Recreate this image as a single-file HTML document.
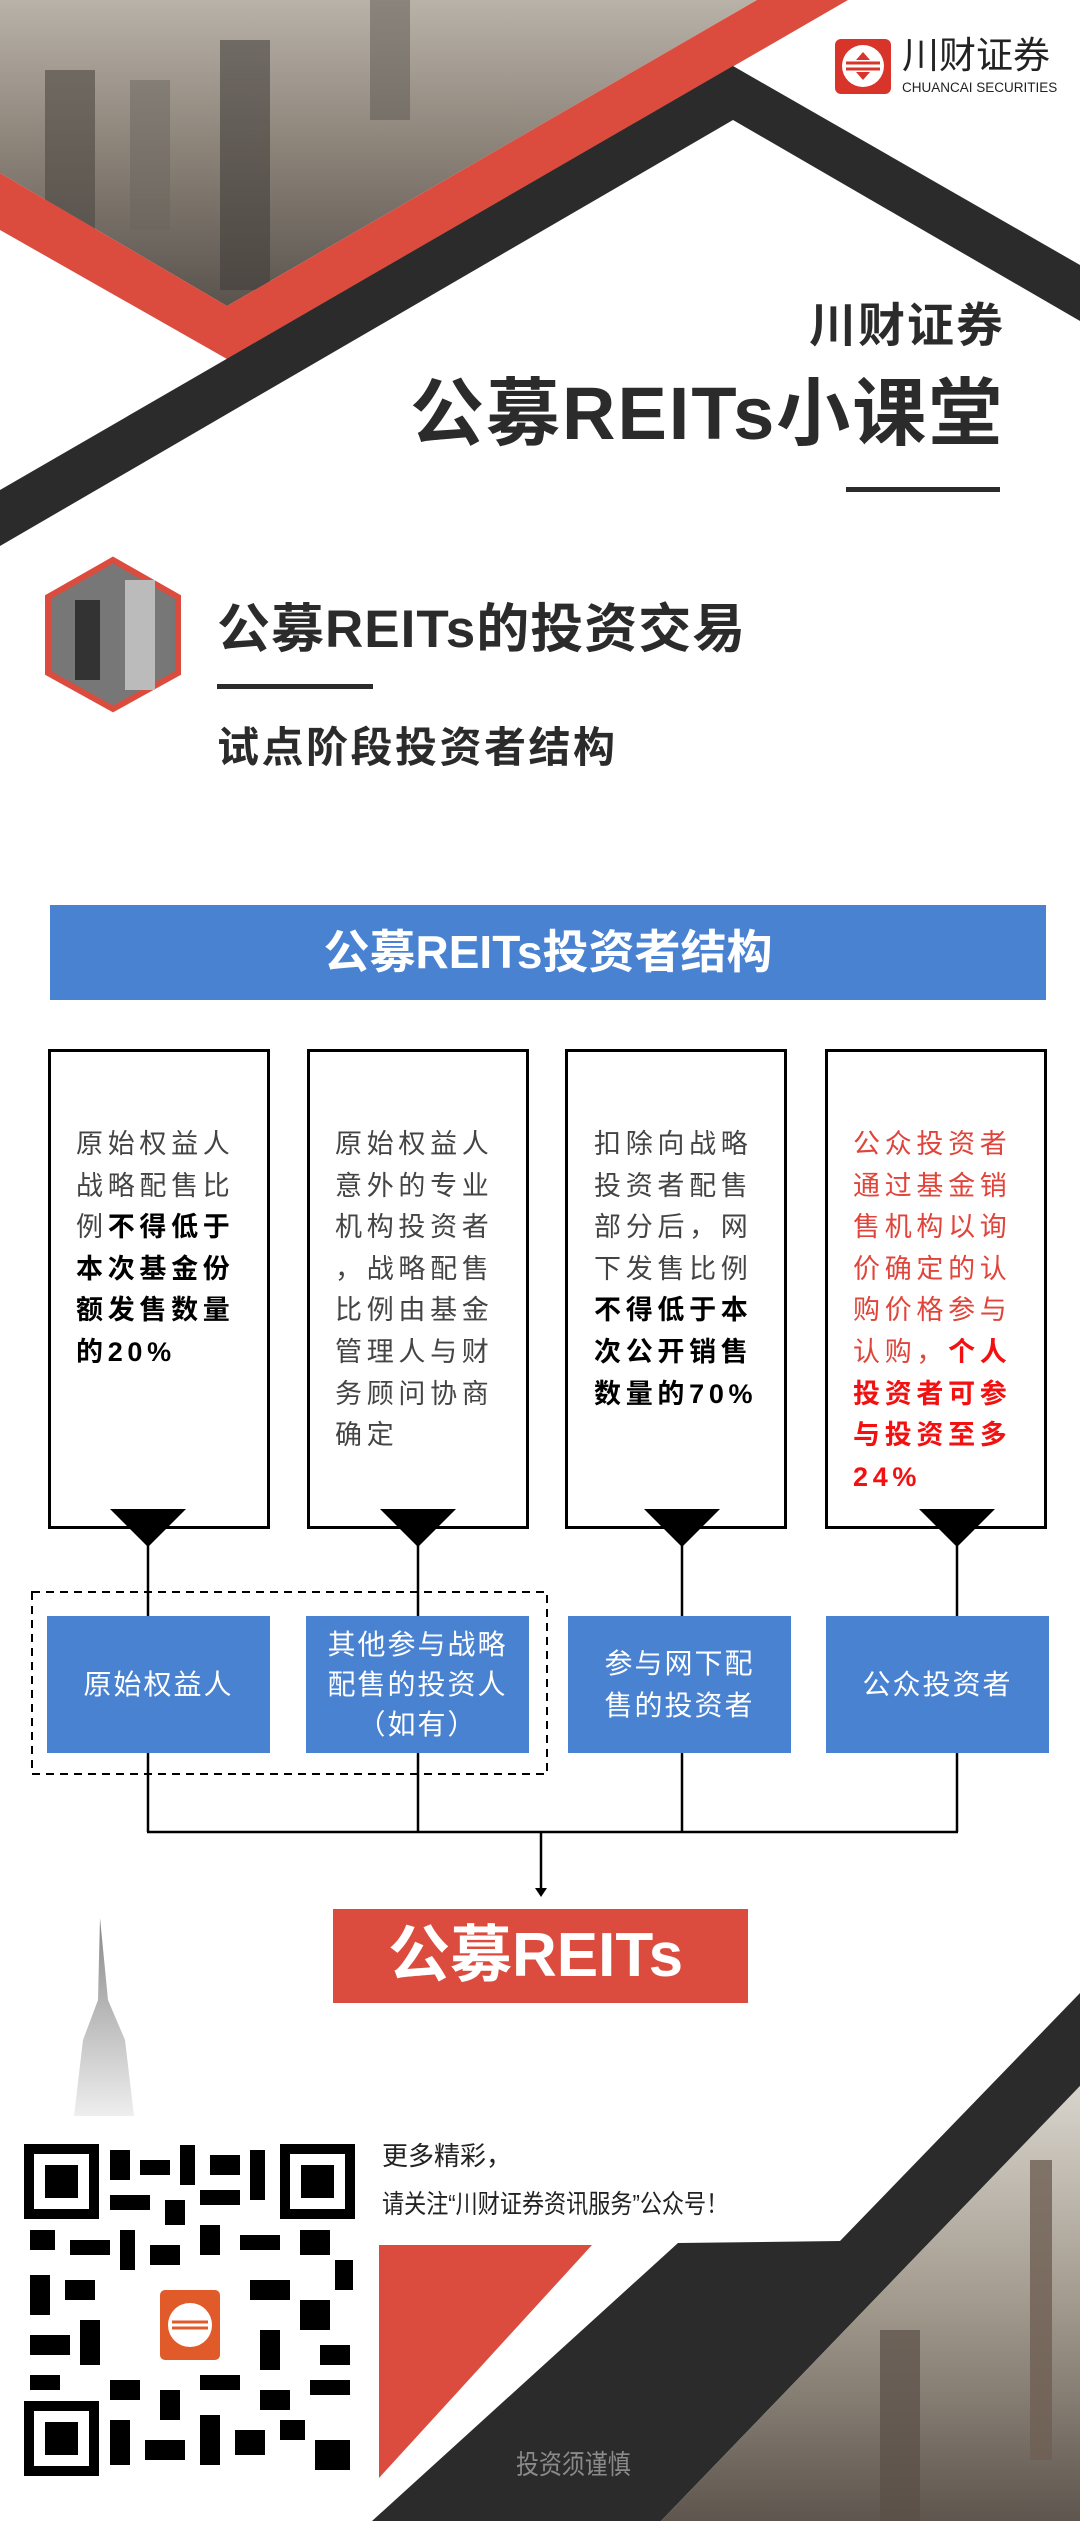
<!DOCTYPE html>
<html><head><meta charset="utf-8">
<style>
html,body{margin:0;padding:0}
body{width:1080px;height:2521px;position:relative;overflow:hidden;background:#fff;font-family:"Liberation Sans","Noto Sans CJK SC",sans-serif}
.a{position:absolute;white-space:nowrap}
.box{position:absolute;top:1049px;width:216px;height:474px;border:3px solid #000;box-sizing:content-box}
.txt{position:absolute;top:1124px;font-size:27px;line-height:41.6px;letter-spacing:4.7px;color:#444;white-space:nowrap}
.txt b{color:#000}
.red{color:#e0443a}
.red b{color:#f31010}
.bb{position:absolute;top:1616px;height:137px;width:223px;background:#4a82d2;color:#fff;font-size:28px;line-height:46px;display:flex;align-items:center;justify-content:center;text-align:center;letter-spacing:2px}
</style></head><body>
<svg class="a" style="left:0;top:0" width="1080" height="2521">
<defs>
<linearGradient id="city" x1="0" y1="0" x2="0" y2="1"><stop offset="0" stop-color="#b9b2a8"/><stop offset="0.5" stop-color="#8a8177"/><stop offset="1" stop-color="#5a544e"/></linearGradient>
<linearGradient id="city2" x1="0" y1="0" x2="0" y2="1"><stop offset="0" stop-color="#d8d4cc"/><stop offset="0.5" stop-color="#a39a8e"/><stop offset="1" stop-color="#5e564e"/></linearGradient>
<linearGradient id="tw" x1="0" y1="0" x2="0" y2="1"><stop offset="0" stop-color="#888"/><stop offset="1" stop-color="#eee"/></linearGradient>
</defs>
<polygon points="0,0 757,0 227,306 0,173" fill="url(#city)"/>
<rect x="45" y="70" width="50" height="160" fill="#4c4742" opacity="0.6"/>
<rect x="220" y="40" width="50" height="250" fill="#3e3a36" opacity="0.55"/>
<rect x="370" y="0" width="40" height="120" fill="#5a5550" opacity="0.5"/>
<rect x="130" y="80" width="40" height="150" fill="#6a645e" opacity="0.5"/>
<polygon points="0,173 227,306 757,0 848,0 227,359 0,230" fill="#dc4c3e"/>
<polygon points="0,490 733,66 1080,265 1080,321 733,120 0,546" fill="#2b2b2b"/>
<polygon points="372,2521 678,2243 840,2241 1080,1993 1080,2086 661,2521" fill="#2b2b2b"/>
<polygon points="1080,2086 1080,2521 661,2521" fill="url(#city2)"/>
<rect x="1030" y="2160" width="22" height="300" fill="#6e5f52" opacity="0.8"/>
<rect x="880" y="2330" width="40" height="191" fill="#5a4f46" opacity="0.7"/>
<polygon points="379,2245 592,2245 379,2478" fill="#dc4c3e"/>
<polygon points="100,1918 108,2000 125,2040 134,2116 74,2116 83,2040 98,2000" fill="url(#tw)"/>
<polygon points="113,560 178,597 178,673 113,709 48,673 48,597" fill="#777" stroke="#dc4c3e" stroke-width="6"/>
<rect x="75" y="600" width="25" height="80" fill="#333"/><rect x="125" y="580" width="30" height="110" fill="#bbb"/>
<rect x="846" y="487" width="154" height="5" fill="#2b2b2b"/>
<rect x="217" y="684" width="156" height="5" fill="#2b2b2b"/>
<rect x="50" y="905" width="996" height="95" fill="#4a82d2"/>
<rect x="32" y="1592" width="515" height="182" fill="none" stroke="#000" stroke-width="2" stroke-dasharray="8,6"/>
<g stroke="#000" stroke-width="2.5" fill="none">
<line x1="148" y1="1540" x2="148" y2="1832"/><line x1="418" y1="1540" x2="418" y2="1832"/>
<line x1="682" y1="1540" x2="682" y2="1832"/><line x1="957" y1="1540" x2="957" y2="1832"/>
<line x1="147" y1="1832" x2="958" y2="1832"/><line x1="541" y1="1832" x2="541" y2="1892"/>
</g>
<polygon points="535,1888 547,1888 541,1897" fill="#000"/>
<rect x="835" y="39" width="56" height="55" rx="6" fill="#d8342a"/>
<circle cx="863" cy="66" r="21" fill="#fff"/>
<path d="M846 63 H880 M846 69 H880" stroke="#d8342a" stroke-width="3"/>
<polygon points="856,60 870,60 863,52" fill="#d8342a"/><polygon points="856,72 870,72 863,80" fill="#d8342a"/>
<rect x="24" y="2144" width="331" height="332" fill="#fff"/>
<g fill="#000">
<rect x="24" y="2144" width="75" height="75"/><rect x="280" y="2144" width="75" height="75"/><rect x="24" y="2401" width="75" height="75"/>
</g>
<g fill="#fff"><rect x="34" y="2154" width="55" height="55"/><rect x="290" y="2154" width="55" height="55"/><rect x="34" y="2411" width="55" height="55"/></g>
<g fill="#000"><rect x="45" y="2165" width="33" height="33"/><rect x="301" y="2165" width="33" height="33"/><rect x="45" y="2422" width="33" height="33"/></g>
<g fill="#000">
<rect x="110" y="2150" width="20" height="30"/><rect x="140" y="2160" width="30" height="15"/><rect x="180" y="2145" width="15" height="40"/><rect x="210" y="2155" width="30" height="20"/><rect x="250" y="2150" width="15" height="50"/>
<rect x="110" y="2195" width="40" height="15"/><rect x="165" y="2200" width="20" height="25"/><rect x="200" y="2190" width="40" height="15"/>
<rect x="30" y="2230" width="25" height="20"/><rect x="70" y="2240" width="40" height="15"/><rect x="120" y="2230" width="15" height="40"/><rect x="150" y="2245" width="30" height="20"/><rect x="200" y="2225" width="20" height="30"/><rect x="240" y="2235" width="40" height="15"/><rect x="300" y="2230" width="30" height="25"/><rect x="335" y="2260" width="18" height="30"/>
<rect x="30" y="2275" width="20" height="40"/><rect x="65" y="2280" width="30" height="20"/><rect x="250" y="2280" width="40" height="20"/><rect x="300" y="2300" width="30" height="30"/>
<rect x="30" y="2335" width="40" height="20"/><rect x="80" y="2320" width="20" height="45"/><rect x="260" y="2330" width="20" height="40"/><rect x="320" y="2345" width="30" height="20"/>
<rect x="30" y="2375" width="30" height="15"/><rect x="110" y="2380" width="30" height="20"/><rect x="160" y="2390" width="20" height="30"/><rect x="200" y="2375" width="40" height="15"/><rect x="260" y="2390" width="30" height="20"/><rect x="310" y="2380" width="40" height="15"/>
<rect x="110" y="2420" width="20" height="45"/><rect x="145" y="2440" width="40" height="20"/><rect x="200" y="2415" width="20" height="50"/><rect x="235" y="2430" width="30" height="25"/><rect x="280" y="2420" width="25" height="20"/><rect x="315" y="2440" width="35" height="30"/>
</g>
<rect x="150" y="2280" width="80" height="92" rx="8" fill="#fff"/>
<rect x="160" y="2290" width="60" height="70" rx="5" fill="#e05a2a"/>
<circle cx="190" cy="2325" r="22" fill="#fff"/><path d="M172 2322 H208 M172 2328 H208" stroke="#e05a2a" stroke-width="3"/>
</svg>

<div class="a" style="left:902px;top:34px;font-size:37px;color:#222;line-height:44px">川财证券</div>
<div class="a" style="left:902px;top:80px;font-size:13.5px;color:#222;line-height:16px">CHUANCAI SECURITIES</div>
<div class="a" style="left:809px;top:296px;font-size:47px;font-weight:bold;color:#2b2b2b;line-height:60px;letter-spacing:2px">川财证券</div>
<div class="a" style="left:410px;top:366px;font-size:74px;font-weight:bold;color:#2b2b2b;line-height:96px;letter-spacing:2px">公募REITs小课堂</div>
<div class="a" style="left:217px;top:596px;font-size:53px;font-weight:bold;color:#2b2b2b;line-height:68px;letter-spacing:1px">公募REITs的投资交易</div>
<div class="a" style="left:217px;top:720px;font-size:42px;font-weight:bold;color:#2b2b2b;line-height:56px;letter-spacing:2.5px">试点阶段投资者结构</div>
<div class="a" style="left:50px;top:905px;width:996px;text-align:center;font-size:46px;font-weight:bold;color:#fff;line-height:95px">公募REITs投资者结构</div>

<div class="box" style="left:48px"></div>
<div class="box" style="left:307px"></div>
<div class="box" style="left:565px"></div>
<div class="box" style="left:825px"></div>
<svg class="a" style="left:0;top:1505px" width="1080" height="50">
<polygon points="110,4 186,4 148,42" fill="#000"/><polygon points="380,4 456,4 418,42" fill="#000"/>
<polygon points="644,4 720,4 682,42" fill="#000"/><polygon points="919,4 995,4 957,42" fill="#000"/>
</svg>
<div class="txt" style="left:76px">原始权益人<br>战略配售比<br>例<b>不得低于</b><br><b>本次基金份</b><br><b>额发售数量</b><br><b>的20%</b></div>
<div class="txt" style="left:335px">原始权益人<br>意外的专业<br>机构投资者<br>，战略配售<br>比例由基金<br>管理人与财<br>务顾问协商<br>确定</div>
<div class="txt" style="left:594px">扣除向战略<br>投资者配售<br>部分后，网<br>下发售比例<br><b>不得低于本</b><br><b>次公开销售</b><br><b>数量的70%</b></div>
<div class="txt red" style="left:853px">公众投资者<br>通过基金销<br>售机构以询<br>价确定的认<br>购价格参与<br>认购，<b>个人</b><br><b>投资者可参</b><br><b>与投资至多</b><br><b>24%</b></div>

<div class="bb" style="left:47px">原始权益人</div>
<div class="bb" style="left:306px;line-height:40px">其他参与战略<br>配售的投资人<br>（如有）</div>
<div class="bb" style="left:568px;line-height:42px">参与网下配<br>售的投资者</div>
<div class="bb" style="left:826px">公众投资者</div>

<div class="a" style="left:333px;top:1909px;width:415px;height:94px;background:#dc4c3e"></div>
<div class="a" style="left:388px;top:1909px;font-size:62px;font-weight:bold;color:#fff;line-height:94px">公募REITs</div>

<div class="a" style="left:382px;top:2138px;font-size:26px;color:#222;line-height:36px">更多精彩，</div>
<div class="a" style="left:382px;top:2186px;font-size:26px;color:#222;line-height:36px;transform:scaleX(0.85);transform-origin:left">请关注“川财证券资讯服务”公众号！</div>
<div class="a" style="left:516px;top:2447px;font-size:27px;color:#8a8a8a;line-height:36px;transform:scaleX(0.85);transform-origin:left">投资须谨慎</div>
</body></html>
